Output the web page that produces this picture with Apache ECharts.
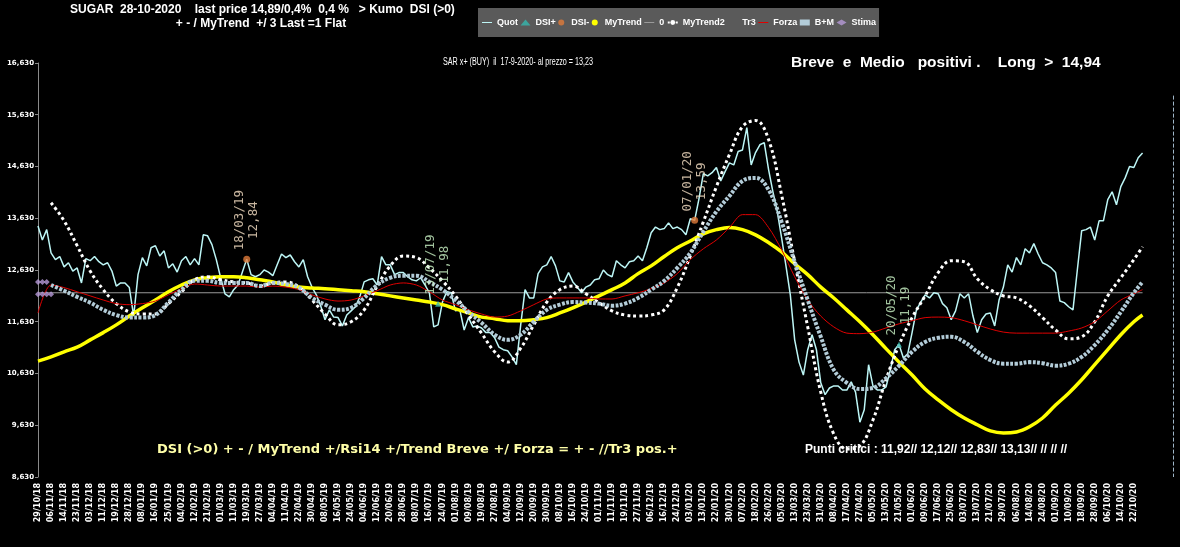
<!DOCTYPE html>
<html><head><meta charset="utf-8">
<script src="https://cdn.jsdelivr.net/npm/echarts@6/dist/echarts.min.js"></script>
<style>html,body{margin:0;padding:0;background:#000;}#c{width:1180px;height:547px;}</style>
</head><body><div id="c"></div>
<script>
// ---- tick labels (one every ~6 trading days) ----
const tickLabels = ["29/10/18","06/11/18","14/11/18","23/11/18","03/12/18","11/12/18","19/12/18","28/12/18",
"08/01/19","16/01/19","25/01/19","04/02/19","12/02/19","21/02/19","01/03/19","11/03/19","19/03/19","27/03/19",
"04/04/19","11/04/19","22/04/19","30/04/19","08/05/19","16/05/19","24/05/19","04/06/19","12/06/19","20/06/19",
"28/06/19","08/07/19","16/07/19","24/07/19","01/08/19","09/08/19","19/08/19","27/08/19","04/09/19","12/09/19",
"20/09/19","30/09/19","08/10/19","16/10/19","24/10/19","01/11/19","11/11/19","19/11/19","27/11/19","06/12/19",
"16/12/19","24/12/19","03/01/20","13/01/20","22/01/20","30/01/20","07/02/20","18/02/20","26/02/20","05/03/20",
"13/03/20","23/03/20","31/03/20","08/04/20","17/04/20","27/04/20","05/05/20","13/05/20","21/05/20","01/06/20",
"09/06/20","17/06/20","25/06/20","03/07/20","13/07/20","21/07/20","29/07/20","06/08/20","14/08/20","24/08/20",
"01/09/20","10/09/20","18/09/20","28/09/20","06/10/20","14/10/20","22/10/20"];

// ---- Quot: one value every 2 trading days (3 per tick label) ----
const quot = [
13.48,13.21,13.41,12.96,12.83,12.89,12.69,12.77,12.61,12.67,
12.38,12.85,12.81,12.89,12.79,12.73,12.77,12.61,12.32,12.38,
12.38,12.29,11.74,12.54,12.87,12.71,13.06,13.10,12.90,13.00,
12.67,12.75,12.59,12.81,12.89,12.73,12.85,12.73,13.31,13.29,
13.12,12.83,12.48,12.17,12.11,12.25,12.34,12.59,12.84,12.54,
12.50,12.54,12.63,12.59,12.52,12.73,12.94,12.87,12.92,12.79,
12.69,12.83,12.50,12.30,12.15,11.94,11.67,11.86,11.72,11.71,
11.55,11.76,11.84,11.92,12.11,12.40,12.44,12.46,12.34,12.89,
12.73,12.73,12.54,12.58,12.58,12.50,12.44,12.42,12.48,12.34,
12.19,11.53,11.57,12.01,12.21,12.19,11.84,11.86,11.47,11.71,
11.53,11.55,11.51,11.42,11.42,11.32,11.14,11.09,11.07,10.95,
10.80,11.57,12.25,12.09,12.09,12.56,12.69,12.73,12.89,12.71,
12.42,12.40,12.58,12.40,12.30,12.19,12.30,12.34,12.44,12.46,
12.63,12.54,12.50,12.81,12.73,12.67,12.79,12.81,12.90,12.81,
13.06,13.35,13.46,13.41,13.43,13.54,13.43,13.46,13.41,13.31,
13.62,13.59,14.01,14.49,14.45,14.51,14.61,14.35,14.53,14.70,
14.66,14.92,14.95,15.38,14.66,14.90,15.05,15.09,14.57,14.14,
13.76,13.25,12.71,12.15,11.28,10.85,10.60,11.09,11.38,11.09,
10.45,10.22,10.35,10.39,10.39,10.31,10.31,10.47,10.27,9.69,
9.93,10.80,10.39,10.31,10.31,10.37,10.70,11.09,11.19,10.93,
11.01,11.42,11.86,12.01,12.15,12.09,12.19,12.17,11.98,11.90,
11.67,11.84,12.17,12.09,12.17,11.74,11.42,11.67,11.78,11.80,
11.55,12.05,12.30,12.73,12.59,12.87,12.73,13.04,12.96,13.14,
12.94,12.77,12.73,12.67,12.58,12.03,12.00,11.92,11.86,12.63,
13.39,13.41,13.46,13.21,13.58,13.58,13.99,14.14,13.89,14.24,
14.41,14.63,14.61,14.80,14.89];

// ---- smooth series: one value per tick label (+ last day) ----
const myTrend = [
10.87,10.95,11.05,11.14,11.28,11.42,11.57,11.74,11.90,12.05,
12.21,12.34,12.44,12.48,12.50,12.50,12.48,12.44,12.40,12.34,
12.30,12.28,12.27,12.25,12.23,12.21,12.17,12.13,12.09,12.05,
12.01,11.96,11.88,11.80,11.72,11.69,11.65,11.65,11.67,11.71,
11.80,11.90,12.01,12.13,12.25,12.38,12.56,12.71,12.89,13.06,
13.19,13.33,13.41,13.45,13.41,13.31,13.16,12.98,12.75,12.54,
12.30,12.09,11.86,11.63,11.38,11.11,10.85,10.60,10.33,10.12,
9.93,9.77,9.64,9.52,9.48,9.50,9.60,9.77,10.02,10.25,
10.51,10.80,11.09,11.38,11.63,11.76];

const myTrend2 = [
null,13.93,13.58,13.10,12.61,12.25,11.98,11.82,11.78,11.78,
11.98,12.21,12.44,12.50,12.44,12.40,12.38,12.32,12.38,12.40,
12.30,12.05,11.78,11.57,11.63,11.86,12.32,12.71,12.90,12.87,
12.67,12.42,12.13,11.76,11.41,11.05,10.85,11.12,11.57,12.01,
12.25,12.32,12.17,12.00,11.84,11.76,11.74,11.76,11.86,12.29,
12.90,13.56,14.24,14.86,15.40,15.52,15.15,14.08,12.79,11.53,
10.27,9.46,9.17,9.23,9.73,10.51,11.18,11.71,12.13,12.58,
12.81,12.79,12.46,12.25,12.13,12.09,11.94,11.71,11.47,11.30,
11.34,11.63,12.13,12.48,12.83,13.08];

const forza = [
11.80,12.34,12.29,12.21,12.13,12.05,11.98,11.96,11.98,12.03,
12.15,12.27,12.36,12.34,12.32,12.32,12.32,12.30,12.32,12.30,
12.25,12.15,12.07,12.03,12.05,12.13,12.23,12.34,12.38,12.34,
12.21,12.05,11.96,11.86,11.78,11.72,11.74,11.84,11.96,12.07,
12.09,12.09,12.09,12.07,12.07,12.13,12.19,12.27,12.38,12.56,
12.83,13.04,13.21,13.45,13.70,13.70,13.45,13.02,12.50,12.05,
11.74,11.53,11.41,11.40,11.43,11.51,11.59,11.65,11.71,11.72,
11.71,11.65,11.57,11.49,11.43,11.41,11.41,11.41,11.41,11.45,
11.51,11.63,11.84,12.05,12.17,12.25];

const bm = [
null,12.34,12.23,12.11,12.00,11.86,11.76,11.71,11.71,11.76,
12.00,12.25,12.42,12.42,12.38,12.38,12.38,12.32,12.38,12.36,
12.29,12.09,11.96,11.86,11.90,12.09,12.34,12.48,12.52,12.52,
12.40,12.25,12.05,11.82,11.61,11.38,11.28,11.38,11.63,11.86,
11.96,12.01,12.00,11.98,11.94,11.98,12.09,12.25,12.42,12.67,
12.96,13.37,13.76,14.06,14.35,14.41,14.18,13.56,12.79,12.05,
11.34,10.70,10.45,10.33,10.35,10.54,10.78,11.05,11.24,11.32,
11.34,11.24,11.05,10.89,10.82,10.82,10.85,10.83,10.78,10.82,
10.95,11.18,11.47,11.82,12.19,12.40];

const zeroLevel = 12.19;
const stimaUpper = [12.40, 12.40, 12.40];
const stimaLower = [12.16, 12.16, 12.16, 12.16];

// DSI signals (index in 2-day steps, value, date)
const dsiPlusIdx = [92, 198];
const dsiPlusVal = [11.98, 11.19];
const dsiPlusDate = ["13/07/19", "20/05/20"];
const dsiMinusIdx = [48, 151];
const dsiMinusVal = [12.84, 13.59];
const dsiMinusDate = ["18/03/19", "07/01/20"];

// ---- build ----
const STEP = 3;
const lastIdx = quot.length - 1;
const AXIS_MAX = 87 * STEP;
const perLabel = arr => arr.map((v, i) => [Math.min(i * STEP, lastIdx), v]);
const fmt = v => v.toFixed(2).replace('.', ',');
const signalData = (idx, val, dates) => idx.map((k, i) => ({
  value: [k, val[i]],
  label: { formatter: dates[i] + '\n' + fmt(val[i]) }
}));
const sigLabel = color => ({
  show: true, position: 'inside', rotate: 90, align: 'center', verticalAlign: 'middle',
  offset: [39, 0], color: color, fontFamily: 'DejaVu Sans Mono', fontSize: 12.5, lineHeight: 14
});
const BAR_ICON = 'path://M0,0H20V2H0Z';

const chart = echarts.init(document.getElementById('c'), null, { renderer: 'canvas' });
const option = {
  backgroundColor: '#000',
  animation: false,
  grid: { left: 38, right: 7, top: 63, bottom: 70 },
  legend: {
    left: 478, top: 8, padding: [10, 3, 10, 4],
    backgroundColor: '#5a5a5a',
    itemWidth: 10, itemHeight: 6, itemGap: 2.5,
    selectedMode: false,
    textStyle: { color: '#fff', fontWeight: 'bold', fontSize: 9, fontFamily: 'Liberation Sans' },
    data: [
      { name: 'Quot', icon: BAR_ICON },
      { name: 'DSI+', icon: 'triangle' },
      { name: 'DSI-', icon: 'circle' },
      { name: 'MyTrend', icon: 'circle' },
      { name: '0', icon: BAR_ICON },
      { name: 'MyTrend2' },
      { name: 'Tr3', icon: 'rect', itemStyle: { opacity: 0 } },
      { name: 'Forza', icon: BAR_ICON },
      { name: 'B+M', icon: 'rect' },
      { name: 'Stima', icon: 'diamond' }
    ]
  },
  xAxis: {
    type: 'value', min: 0, max: AXIS_MAX, interval: STEP,
    axisLine: { show: false }, axisTick: { show: false }, splitLine: { show: false },
    axisLabel: {
      rotate: 90, color: '#fff', fontSize: 8, fontWeight: 'bold', fontFamily: 'DejaVu Sans', margin: 6,
      showMinLabel: true, showMaxLabel: true,
      formatter: v => tickLabels[Math.round(v / STEP)] || ''
    }
  },
  yAxis: {
    type: 'value', min: 8.63, max: 16.63, interval: 1,
    axisLine: { show: true, lineStyle: { color: '#8a8a8a' } },
    axisTick: { show: true, length: 3, lineStyle: { color: '#8a8a8a' } },
    splitLine: { show: false },
    axisLabel: {
      color: '#fff', fontSize: 7, fontWeight: 'bold', fontFamily: 'DejaVu Sans', margin: 4,
      formatter: v => v.toFixed(3).replace('.', ',')
    }
  },
  series: [
    { name: 'Quot', type: 'line', data: quot.map((v, k) => [k, v]), symbol: 'none',
      lineStyle: { color: '#bdf6f6', width: 1.5 }, itemStyle: { color: '#bdf6f6' }, z: 3 },
    { name: 'DSI+', type: 'scatter', data: signalData(dsiPlusIdx, dsiPlusVal, dsiPlusDate),
      symbol: 'triangle', symbolSize: 6, itemStyle: { color: '#35b7ae' }, label: sigLabel('#c9f3c4'), z: 6 },
    { name: 'DSI-', type: 'scatter', data: signalData(dsiMinusIdx, dsiMinusVal, dsiMinusDate),
      symbol: 'circle', symbolSize: 7, itemStyle: { color: '#e07b3a' }, label: sigLabel('#f7e1c6'), z: 6 },
    { name: 'MyTrend', type: 'line', data: perLabel(myTrend), symbol: 'none', smooth: 0.4,
      lineStyle: { color: '#ffff00', width: 3.5 }, itemStyle: { color: '#ffff00' }, z: 3 },
    { name: '0', type: 'line', data: [[0, zeroLevel], [lastIdx, zeroLevel]], symbol: 'none',
      lineStyle: { color: '#9a9a9a', width: 1 }, itemStyle: { color: '#9a9a9a' }, z: 2,
      markLine: { silent: true, symbol: 'none', label: { show: false },
        lineStyle: { color: '#9fb6c8', type: 'dashed', width: 1 },
        data: [[{ coord: [AXIS_MAX, 16.0] }, { coord: [AXIS_MAX, 8.63] }]] } },
    { name: 'MyTrend2', type: 'line', data: perLabel(myTrend2), symbol: 'none', smooth: 0.4,
      lineStyle: { color: '#ffffff', width: 3, type: 'dotted' }, itemStyle: { color: '#ffffff' }, z: 3 },
    { name: 'Tr3', type: 'line', data: [], symbol: 'none', itemStyle: { color: '#000' } },
    { name: 'Forza', type: 'line', data: perLabel(forza), symbol: 'none', smooth: 0.3,
      lineStyle: { color: '#e00000', width: 1 }, itemStyle: { color: '#e00000' }, z: 3 },
    { name: 'B+M', type: 'line', data: perLabel(bm), symbol: 'none', smooth: 0.4,
      lineStyle: { color: '#b3ccd8', width: 4, type: [3, 1.5] }, itemStyle: { color: '#b3ccd8' }, z: 3 },
    { name: 'Stima', type: 'scatter', symbol: 'diamond', symbolSize: 6,
      data: stimaUpper.map((v, k) => [k, v]).concat(stimaLower.map((v, k) => [k, v])),
      itemStyle: { color: '#b79ad8' }, z: 5 }
  ],
  graphic: [
    { type: 'text', x: 70, y: 10, style: { text: 'SUGAR  28-10-2020    last price 14,89/0,4%  0,4 %   > Kumo  DSI (>0)',
      fill: '#fff', font: 'bold 12px "Liberation Sans"', verticalAlign: 'middle' } },
    { type: 'text', x: 261, y: 24, style: { text: '+ - / MyTrend  +/ 3 Last =1 Flat',
      fill: '#fff', font: 'bold 12px "Liberation Sans"', align: 'center', verticalAlign: 'middle' } },
    { type: 'text', x: 443, y: 62, scaleX: 0.72, style: { text: 'SAR x+ (BUY)  il  17-9-2020- al prezzo = 13,23',
      fill: '#fff', font: '10px "Liberation Sans"', verticalAlign: 'middle' } },
    { type: 'text', x: 791, y: 63, style: { text: 'Breve  e  Medio   positivi .    Long  >  14,94',
      fill: '#fff', font: 'bold 15.5px "Liberation Sans"', verticalAlign: 'middle' } },
    { type: 'text', x: 157, y: 450, style: { text: 'DSI (>0) + - / MyTrend +/Rsi14 +/Trend Breve +/ Forza = + - //Tr3 pos.+',
      fill: '#ffffa8', font: 'bold 13px "DejaVu Sans"', verticalAlign: 'middle' } },
    { type: 'text', x: 805, y: 450, style: { text: 'Punti critici : 11,92// 12,12// 12,83// 13,13// // // //',
      fill: '#fff', font: 'bold 12px "Liberation Sans"', verticalAlign: 'middle' } }
  ]
};
chart.setOption(option);
</script>
</body></html>
